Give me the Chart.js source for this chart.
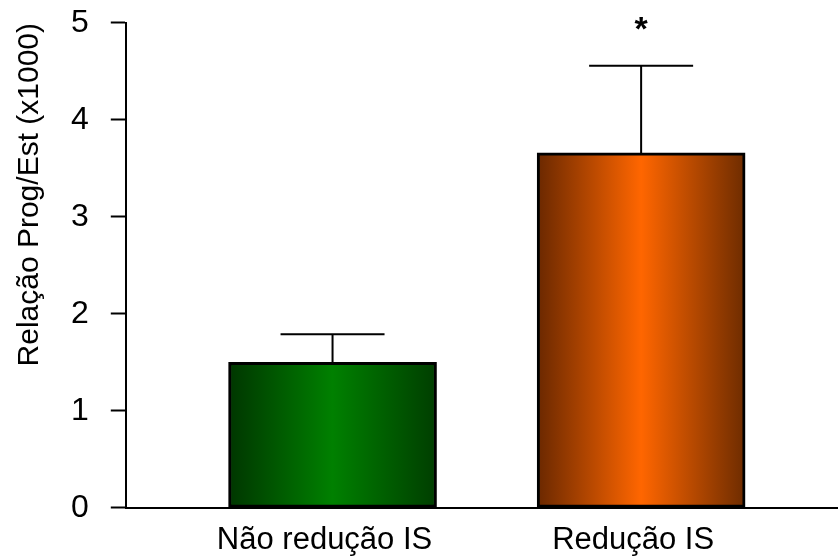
<!DOCTYPE html>
<html>
<head>
<meta charset="utf-8">
<script src="https://cdn.jsdelivr.net/npm/chart.js@4.4.0/dist/chart.umd.min.js"></script>
<style>
  html, body { margin: 0; padding: 0; background: #fff; }
</style>
</head>
<body>
<canvas id="ratio-chart" width="838" height="560"></canvas>
<script>
const categories = ['Não redução IS', 'Redução IS'];
const positions = [1, 2];
const means = [1.5, 3.66];
const upperErr = [1.79, 4.56];
const marks = ['', '*'];
const yTicks = [0, 1, 2, 3, 4, 5];
const gradStops = [
    ['#003600', '#008000', '#003e00'],
    ['#6a2800', '#ff6600', '#6e2c00']
];

const BAR_W = 208;
const FONT = 'Arial, "Liberation Sans", sans-serif';

function barFill(c) {
    const chart = c.chart;
    const xs = chart.scales && chart.scales.x;
    const i = c.dataIndex;
    if (!chart.chartArea || !xs || i === undefined) return '#008000';
    const cx = xs.getPixelForValue(positions[i]);
    if (!isFinite(cx)) return gradStops[i][1];
    const g = chart.ctx.createLinearGradient(cx - BAR_W / 2, 0, cx + BAR_W / 2, 0);
    const s = gradStops[i];
    g.addColorStop(0, s[0]);
    g.addColorStop(0.5, s[1]);
    g.addColorStop(1, s[2]);
    return g;
}

// upper error bars + significance mark
const errorBars = {
    id: 'errorBars',
    afterDatasetsDraw(chart) {
        const ctx = chart.ctx;
        const y = chart.scales.y;
        const meta = chart.getDatasetMeta(0);
        ctx.save();
        ctx.strokeStyle = '#000';
        ctx.lineWidth = 2;
        meta.data.forEach((bar, i) => {
            const top = y.getPixelForValue(upperErr[i]);
            const half = bar.width / 4;
            ctx.beginPath();
            ctx.moveTo(bar.x, bar.y);
            ctx.lineTo(bar.x, top);
            ctx.moveTo(bar.x - half, top);
            ctx.lineTo(bar.x + half, top);
            ctx.stroke();
            if (marks[i]) {
                ctx.fillStyle = '#000';
                ctx.font = 'bold 34px ' + FONT;
                ctx.textAlign = 'center';
                ctx.textBaseline = 'alphabetic';
                ctx.fillText(marks[i], bar.x, top - 26);
            }
        });
        ctx.restore();
    }
};

new Chart(document.getElementById('ratio-chart'), {
    type: 'bar',
    data: {
        datasets: [{
            data: means.map((v, i) => ({ x: positions[i], y: v })),
            backgroundColor: barFill,
            borderColor: '#000',
            borderWidth: 3,
            borderSkipped: false,
            barThickness: BAR_W
        }]
    },
    options: {
        responsive: false,
        animation: false,
        layout: { padding: { top: 0, right: 0, bottom: -13, left: 0 } },
        plugins: {
            legend: { display: false },
            tooltip: { enabled: false }
        },
        scales: {
            x: {
                type: 'linear',
                offset: false,
                min: 0.33,
                max: 2.638,
                afterBuildTicks: (scale) => {
                    scale.ticks = positions.map(p => ({ value: p }));
                },
                ticks: {
                    autoSkip: false,
                    maxRotation: 0,
                    padding: 14,
                    labelOffset: -8,
                    color: '#000',
                    font: { family: FONT, size: 31 },
                    callback: (v) => categories[positions.indexOf(v)]
                },
                grid: { display: false, drawTicks: false, offset: false },
                border: { display: true, color: '#000', width: 2 }
            },
            y: {
                min: 0,
                max: 5,
                afterBuildTicks: (scale) => {
                    scale.ticks = yTicks.map(v => ({ value: v }));
                },
                ticks: {
                    padding: 22,
                    color: '#000',
                    font: { family: FONT, size: 32, lineHeight: 0.06 }
                },
                grid: {
                    display: true,
                    drawOnChartArea: false,
                    drawTicks: true,
                    tickLength: 15,
                    tickWidth: 2,
                    tickColor: '#000'
                },
                border: { display: true, color: '#000', width: 2 },
                title: {
                    display: true,
                    text: 'Relação Prog/Est (x1000)',
                    align: 'end',
                    color: '#000',
                    font: { family: FONT, size: 30 },
                    padding: { top: 12, bottom: 1 }
                }
            }
        }
    },
    plugins: [errorBars]
});
</script>
</body>
</html>
